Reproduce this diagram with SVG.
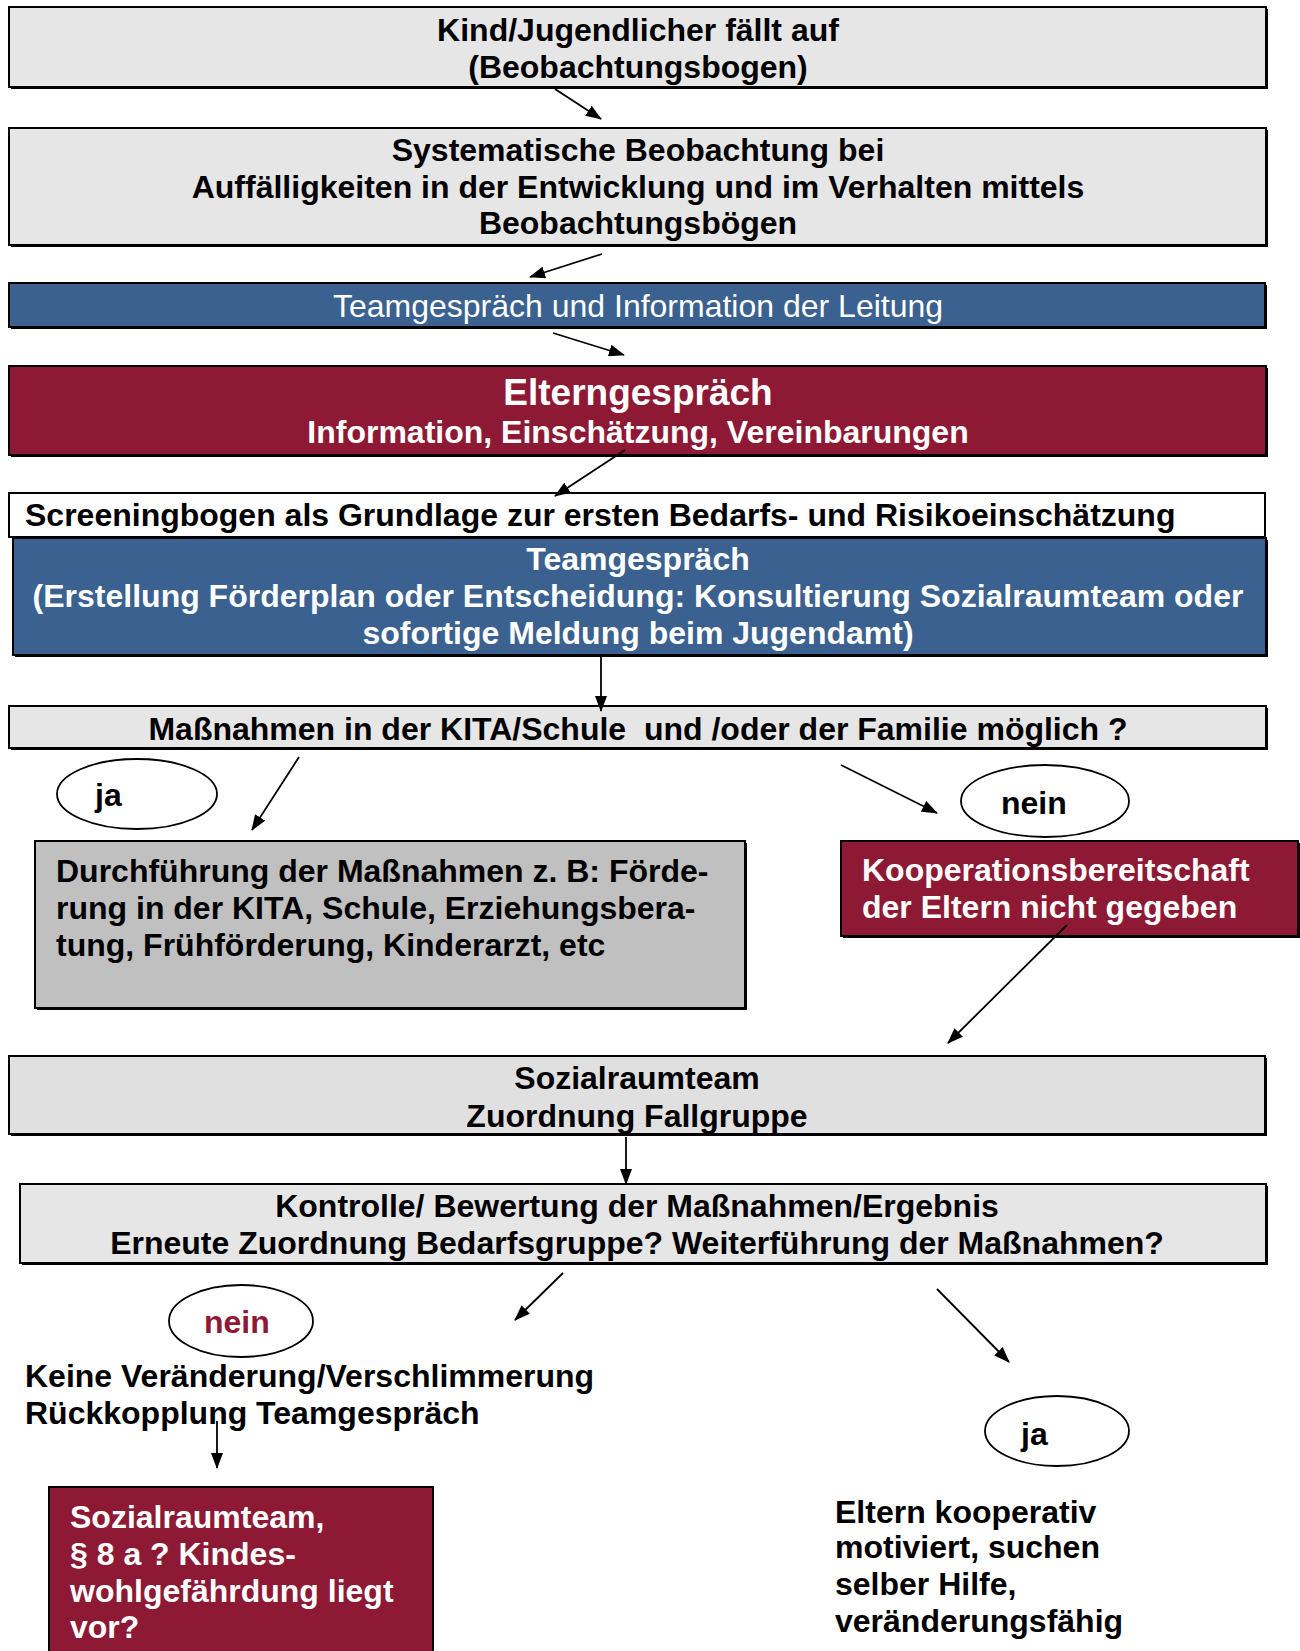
<svg xmlns="http://www.w3.org/2000/svg" width="1300" height="1651" viewBox="0 0 1300 1651">
<style>
.t{font-family:"Liberation Sans",Arial,sans-serif;font-size:32px;font-weight:bold;fill:#000}
.w{fill:#fff}
.c{text-anchor:middle}
.n{font-weight:normal}
.box{stroke:#000;stroke-width:2}
.sh{fill:#000}
.conn line{stroke:#000;stroke-width:1.8;marker-end:url(#ah)}
.ell{fill:#fff;stroke:#000;stroke-width:1.8}
</style>
<defs>
<marker id="ah" viewBox="0 0 16 12" refX="15" refY="6" markerWidth="16" markerHeight="12" markerUnits="userSpaceOnUse" orient="auto">
<path d="M0,0 L16,6 L0,12 z" fill="#000"/>
</marker>
</defs>
<rect width="1300" height="1651" fill="#fff"/>

<g id="n1">
<rect class="sh" x="11" y="9" width="1257" height="80"/>
<rect class="box" x="9" y="7" width="1257" height="80" fill="#e6e6e6"/>
<text class="t c" x="638" y="41">Kind/Jugendlicher fällt auf</text>
<text class="t c" x="638" y="78">(Beobachtungsbogen)</text>
</g>

<g id="n2">
<rect class="sh" x="11" y="130" width="1257" height="117"/>
<rect class="box" x="9" y="128" width="1257" height="117" fill="#e6e6e6"/>
<text class="t c" x="638" y="161">Systematische Beobachtung bei</text>
<text class="t c" x="638" y="198">Auffälligkeiten in der Entwicklung und im Verhalten mittels</text>
<text class="t c" x="638" y="234">Beobachtungsbögen</text>
</g>

<g id="n3">
<rect class="sh" x="11" y="285" width="1256" height="44"/>
<rect class="box" x="9" y="283" width="1256" height="44" fill="#3a6190"/>
<text class="t c w n" x="638" y="317">Teamgespräch und Information der Leitung</text>
</g>

<g id="n4">
<rect class="sh" x="11" y="368" width="1257" height="89"/>
<rect class="box" x="9" y="366" width="1257" height="89" fill="#8e1935"/>
<text class="t c w" x="638" y="405" style="font-size:37px">Elterngespräch</text>
<text class="t c w" x="638" y="443">Information, Einschätzung, Vereinbarungen</text>
</g>

<g id="n5">
<rect class="box" x="9" y="493" width="1256" height="44" fill="#fff"/>
<text class="t" x="25" y="526">Screeningbogen als Grundlage zur ersten Bedarfs- und Risikoeinschätzung</text>
</g>

<g id="n6">
<rect class="sh" x="15" y="540" width="1253" height="117"/>
<rect class="box" x="13" y="538" width="1253" height="117" fill="#3a6190"/>
<text class="t c w" x="638" y="570">Teamgespräch</text>
<text class="t c w" x="638" y="607">(Erstellung Förderplan oder Entscheidung: Konsultierung Sozialraumteam oder</text>
<text class="t c w" x="638" y="644">sofortige Meldung beim Jugendamt)</text>
</g>

<g id="n7">
<rect class="sh" x="11" y="708" width="1257" height="42"/>
<rect class="box" x="9" y="706" width="1257" height="42" fill="#e6e6e6"/>
<text class="t c" x="638" y="740" xml:space="preserve">Maßnahmen in der KITA/Schule  und /oder der Familie möglich ?</text>
</g>

<g id="e_ja1">
<ellipse class="ell" cx="137" cy="794" rx="80" ry="35"/>
<text class="t" x="95" y="806">ja</text>
</g>

<g id="e_nein1">
<ellipse class="ell" cx="1045" cy="801" rx="84" ry="36"/>
<text class="t" x="1001" y="814">nein</text>
</g>

<g id="n8">
<rect class="sh" x="37" y="843" width="710" height="167"/>
<rect class="box" x="35" y="841" width="710" height="167" fill="#c0c0c0"/>
<text class="t" x="56" y="882">Durchführung der Maßnahmen z. B: Förde-</text>
<text class="t" x="56" y="919">rung in der KITA, Schule, Erziehungsbera-</text>
<text class="t" x="56" y="956">tung, Frühförderung, Kinderarzt, etc</text>
</g>

<g id="n9">
<rect class="sh" x="843" y="843" width="457" height="95"/>
<rect class="box" x="841" y="841" width="457" height="95" fill="#8e1935"/>
<text class="t w" x="862" y="881">Kooperationsbereitschaft</text>
<text class="t w" x="862" y="918">der Eltern nicht gegeben</text>
</g>

<g id="n10">
<rect class="sh" x="11" y="1058" width="1256" height="78"/>
<rect class="box" x="9" y="1056" width="1256" height="78" fill="#e0e0e0"/>
<text class="t c" x="637" y="1089">Sozialraumteam</text>
<text class="t c" x="637" y="1127">Zuordnung Fallgruppe</text>
</g>

<g id="n11">
<rect class="sh" x="22" y="1186" width="1246" height="79"/>
<rect class="box" x="20" y="1184" width="1246" height="79" fill="#e6e6e6"/>
<text class="t c" x="637" y="1217">Kontrolle/ Bewertung der Maßnahmen/Ergebnis</text>
<text class="t c" x="637" y="1254">Erneute Zuordnung Bedarfsgruppe? Weiterführung der Maßnahmen?</text>
</g>

<g id="e_nein2">
<ellipse class="ell" cx="241" cy="1321" rx="72" ry="36"/>
<text class="t" x="204" y="1333" style="fill:#8e1935">nein</text>
</g>

<g id="n12">
<text class="t" x="25" y="1387">Keine Veränderung/Verschlimmerung</text>
<text class="t" x="25" y="1424">Rückkopplung Teamgespräch</text>
</g>

<g id="n13">
<rect class="box" x="49" y="1487" width="384" height="170" fill="#8e1935"/>
<text class="t w" x="70" y="1528">Sozialraumteam,</text>
<text class="t w" x="70" y="1565">§ 8 a ? Kindes-</text>
<text class="t w" x="70" y="1602">wohlgefährdung liegt</text>
<text class="t w" x="70" y="1638">vor?</text>
</g>

<g id="e_ja2">
<ellipse class="ell" cx="1057" cy="1431" rx="72" ry="35"/>
<text class="t" x="1021" y="1445">ja</text>
</g>

<g id="n14">
<text class="t" x="835" y="1523">Eltern kooperativ</text>
<text class="t" x="835" y="1558">motiviert, suchen</text>
<text class="t" x="835" y="1595">selber Hilfe,</text>
<text class="t" x="835" y="1632">veränderungsfähig</text>
</g>

<g class="conn" id="connectors">
<line x1="555" y1="89" x2="601" y2="119"/>
<line x1="602" y1="254" x2="530" y2="277"/>
<line x1="553" y1="333" x2="624" y2="355"/>
<line x1="625" y1="450" x2="555" y2="496"/>
<line x1="601" y1="655" x2="601" y2="711"/>
<line x1="299" y1="757" x2="252" y2="830"/>
<line x1="841" y1="765" x2="937" y2="813"/>
<line x1="1067" y1="925" x2="948" y2="1043"/>
<line x1="626" y1="1137" x2="626" y2="1184"/>
<line x1="563" y1="1273" x2="515" y2="1320"/>
<line x1="937" y1="1289" x2="1009" y2="1362"/>
<line x1="217" y1="1421" x2="217" y2="1468"/>
</g>
</svg>
